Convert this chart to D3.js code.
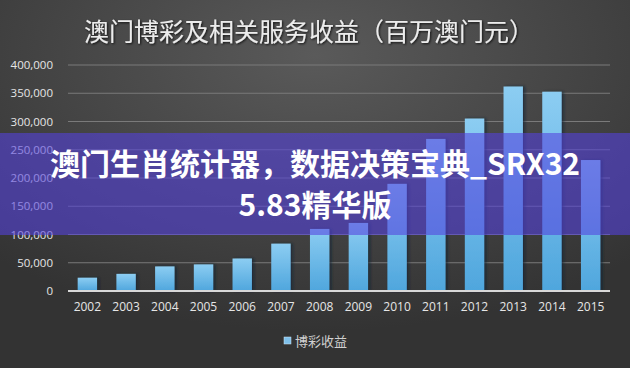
<!DOCTYPE html>
<html>
<head>
<meta charset="utf-8">
<script src="https://cdn.jsdelivr.net/npm/d3@7"></script>
<style>
  body { margin: 0; background: #3b3b3b; }
  svg { display: block; font-family: "Noto Sans CJK SC", "Noto Sans", sans-serif; }
</style>
</head>
<body>
<svg id="chart" width="630" height="368"></svg>
<script>
// data (million MOP)
const years = ["2002", "2003", "2004", "2005", "2006", "2007", "2008", "2009", "2010", "2011", "2012", "2013", "2014", "2015"];
const revenue = [23500, 30300, 43500, 47100, 57500, 83800, 109800, 120400, 189600, 269100, 305200, 361900, 352700, 231800];
const yTicks = [0, 50000, 100000, 150000, 200000, 250000, 300000, 350000, 400000];
const title = "澳门博彩及相关服务收益（百万澳门元）";
const seriesName = "博彩收益";
const bannerLines = ["澳门生肖统计器，数据决策宝典_SRX32", "5.83精华版"];

const W = 630, H = 368;
const margin = {top: 65, right: 20, bottom: 77, left: 68};

const svg = d3.select("#chart");
const defs = svg.append("defs");

// background
const bg = defs.append("radialGradient").attr("id", "bg")
    .attr("cx", "50%").attr("cy", "15%").attr("r", "75%");
bg.append("stop").attr("offset", "0%").attr("stop-color", "#5a5a5a");
bg.append("stop").attr("offset", "100%").attr("stop-color", "#333333");
svg.append("rect").attr("width", W).attr("height", H).attr("fill", "url(#bg)");

const barGrad = defs.append("linearGradient").attr("id", "bar")
    .attr("x1", 0).attr("y1", 0).attr("x2", 0).attr("y2", 1);
barGrad.append("stop").attr("offset", "0%").attr("stop-color", "#8ccdf2");
barGrad.append("stop").attr("offset", "100%").attr("stop-color", "#4fa6dd");

const shadow = defs.append("filter").attr("id", "shadow")
    .attr("x", "-30%").attr("y", "-10%").attr("width", "160%").attr("height", "120%");
shadow.append("feDropShadow").attr("dx", 2).attr("dy", 0).attr("stdDeviation", 1.5)
    .attr("flood-color", "#102030").attr("flood-opacity", 0.7);

const titleShadow = defs.append("filter").attr("id", "tshadow");
titleShadow.append("feDropShadow").attr("dx", 1).attr("dy", 1).attr("stdDeviation", 1)
    .attr("flood-color", "#000").attr("flood-opacity", 0.8);

// title
svg.append("text")
    .attr("x", 309).attr("y", 41)
    .attr("text-anchor", "middle")
    .attr("fill", "#ececec")
    .attr("font-size", 25)
    .attr("filter", "url(#tshadow)")
    .text(title);

const x = d3.scaleBand().domain(years)
    .range([margin.left, W - margin.right])
    .paddingInner(0.5).paddingOuter(0.25);
const y = d3.scaleLinear().domain([0, 400000])
    .range([H - margin.bottom, margin.top]);

// gridlines
svg.append("g")
    .selectAll("line")
    .data(yTicks.slice(1))
    .join("line")
    .attr("x1", margin.left).attr("x2", W - margin.right)
    .attr("y1", d => y(d)).attr("y2", d => y(d))
    .attr("stroke", "#7a7a7a").attr("stroke-width", 1);

// y axis labels
const yAxis = svg.append("g")
    .attr("transform", `translate(${margin.left - 12},0)`)
    .call(d3.axisLeft(y).tickValues(yTicks).tickSize(0).tickFormat(d3.format(",")));
yAxis.select(".domain").remove();
yAxis.selectAll("text")
    .attr("fill", "#e6e6e6").attr("font-size", 11.5)
    .attr("font-family", "'Open Sans', sans-serif");

// bars
svg.append("g")
    .selectAll("rect")
    .data(revenue)
    .join("rect")
    .attr("x", (d, i) => x(years[i]))
    .attr("y", d => y(d))
    .attr("width", x.bandwidth())
    .attr("height", d => y(0) - y(d))
    .attr("fill", "url(#bar)")
    .attr("filter", "url(#shadow)");

// baseline
svg.append("line")
    .attr("x1", margin.left).attr("x2", W - margin.right)
    .attr("y1", y(0)).attr("y2", y(0))
    .attr("stroke", "#d8d8d8").attr("stroke-width", 2);

// x axis labels
const xAxis = svg.append("g")
    .attr("transform", `translate(0,${y(0) + 8})`)
    .call(d3.axisBottom(x).tickSize(0));
xAxis.select(".domain").remove();
xAxis.selectAll("text")
    .attr("fill", "#e6e6e6").attr("font-size", 12)
    .attr("font-family", "'Open Sans', sans-serif");

// legend
const legend = svg.append("g").attr("transform", "translate(284,335)");
legend.append("rect").attr("width", 7).attr("height", 7).attr("y", 2)
    .attr("fill", "#7fc0ea").attr("stroke", "#cfe6f5").attr("stroke-width", 0.5);
legend.append("text").attr("x", 11).attr("y", 10.5)
    .attr("fill", "#d0d0d0").attr("font-size", 13)
    .text(seriesName);

// overlay banner
svg.append("rect")
    .attr("x", 0).attr("y", 133).attr("width", W).attr("height", 102)
    .attr("fill", "rgba(84,66,222,0.58)");

svg.append("g")
    .selectAll("text")
    .data(bannerLines)
    .join("text")
    .attr("x", 315)
    .attr("y", (d, i) => 175 + i * 41)
    .attr("text-anchor", "middle")
    .attr("fill", "#ffffff")
    .attr("font-size", 30)
    .attr("font-weight", "bold")
    .text(d => d);
</script>
</body>
</html>
